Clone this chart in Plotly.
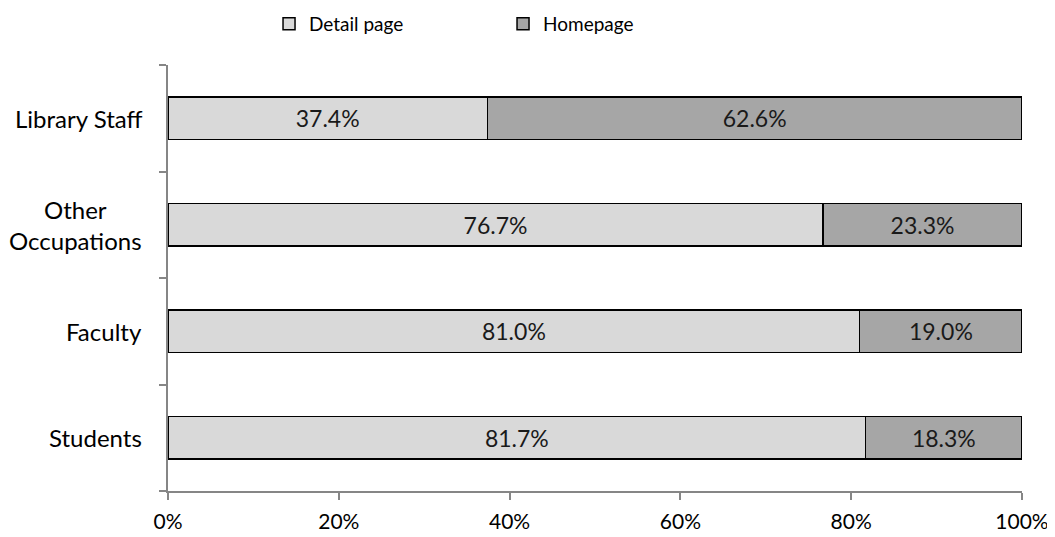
import plotly.graph_objects as go

categories = ["Students", "Faculty", "Other Occupations", "Library Staff"]
category_labels = ["Students", "Faculty", "Other<br>Occupations", "Library Staff"]
detail_page = [81.7, 81.0, 76.7, 37.4]
homepage = [18.3, 19.0, 23.3, 62.6]
x_ticks = [0, 20, 40, 60, 80, 100]
x_tick_labels = ["0%", "20%", "40%", "60%", "80%", "100%"]

FONT = "Lato, Calibri, Carlito, sans-serif"
FS_LABEL = 24
FS_DATA = 23
FS_TICK = 21
FS_LEGEND = 19

# The page body has an 8px default margin, so the figure is sized to fit the window.
W, H = 1047, 529

fig = go.Figure()
fig.add_trace(go.Bar(
    y=categories, x=detail_page, orientation="h", name="Detail page",
    marker=dict(color="#D9D9D9", line=dict(color="#000000", width=1.5)),
    text=[f"{v:.1f}%" for v in detail_page], textposition="inside",
    insidetextanchor="middle", textfont=dict(color="#1a1a1a", size=FS_DATA, family=FONT),
    hoverinfo="skip",
))
fig.add_trace(go.Bar(
    y=categories, x=homepage, orientation="h", name="Homepage",
    marker=dict(color="#A6A6A6", line=dict(color="#000000", width=1.5)),
    text=[f"{v:.1f}%" for v in homepage], textposition="inside",
    insidetextanchor="middle", textfont=dict(color="#1a1a1a", size=FS_DATA, family=FONT),
    hoverinfo="skip",
))

for cat, lab in zip(categories, category_labels):
    fig.add_annotation(
        xref="paper", yref="y", x=-0.028, y=cat, text=lab, showarrow=False,
        xanchor="right", yanchor="middle", align="center",
        font=dict(size=FS_LABEL, family=FONT, color="#000000"),
    )

fig.update_layout(
    barmode="stack",
    bargap=0.6,
    width=W, height=H,
    margin=dict(l=160, r=33, t=57, b=46, autoexpand=False),
    paper_bgcolor="white", plot_bgcolor="white",
    font=dict(family=FONT, size=FS_LABEL, color="#000000"),
    showlegend=True,
    uniformtext=dict(mode="show", minsize=FS_DATA),
    legend=dict(
        orientation="h", x=0.1183, xanchor="left",
        yref="container", y=1 - 16 / H, yanchor="middle",
        entrywidth=189, entrywidthmode="pixels",
        font=dict(size=FS_LEGEND, family=FONT), traceorder="normal",
        itemwidth=30, bgcolor="rgba(0,0,0,0)",
    ),
    xaxis=dict(
        range=[0, 100], tickvals=x_ticks, ticktext=x_tick_labels,
        showgrid=False, zeroline=False, showline=True, linecolor="#868686",
        linewidth=1.5, ticks="outside", ticklen=7, tickcolor="#868686",
        tickwidth=1.5, tickfont=dict(size=FS_TICK, family=FONT), fixedrange=True,
        automargin=False, ticklabelstandoff=4,
    ),
    yaxis=dict(
        categoryorder="array", categoryarray=categories,
        showticklabels=False, showgrid=False, zeroline=False, showline=True,
        linecolor="#868686", linewidth=1.5, ticks="outside", ticklen=7,
        tickcolor="#868686", tickwidth=1.5, tickson="boundaries",
        range=[-0.5, 3.5], fixedrange=True, automargin=False,
    ),
)

fig.write_html("out.html")
